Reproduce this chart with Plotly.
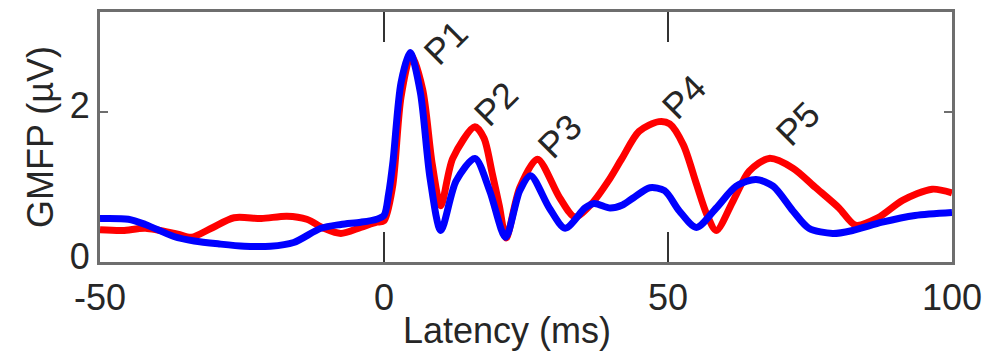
import plotly.graph_objects as go

# Latency axis (ms) and GMFP (µV) for the two conditions
t_red = [-50, -46, -42, -36.3, -33.9, -30.4, -26.4, -21.6, -17.1, -13.6, -10.6, -7.6,
         -4.1, -1.3, 0, 1.5, 3.0, 4.8, 6.8, 8.5, 10.0, 12.1, 16.0, 17.6, 19.0, 20.3,
         21.5, 23.9, 27.0, 30.9, 33.6, 36.6, 39.5, 41.9, 44.9, 48.4, 50.3, 52.7, 55.0,
         56.8, 58.5, 61.5, 64.3, 67.8, 72.0, 76.0, 80.1, 83.0, 87.0, 91.3, 96.5, 100]
gmfp_red = [0.43, 0.42, 0.45, 0.37, 0.33, 0.45, 0.59, 0.58, 0.61, 0.57, 0.45, 0.38,
            0.46, 0.53, 0.55, 1.00, 2.20, 2.76, 2.30, 1.30, 0.75, 1.38, 1.80, 1.65, 1.20, 0.75,
            0.32, 0.99, 1.37, 0.86, 0.60, 0.78, 1.08, 1.38, 1.74, 1.87, 1.84, 1.56, 1.04,
            0.64, 0.42, 0.82, 1.21, 1.38, 1.25, 0.99, 0.72, 0.49, 0.59, 0.82, 0.97, 0.92]

t_blue = [-50, -45, -42, -37, -33.4, -29, -24.6, -20, -15.9, -11.1, -7.6, -4.1, -1.3,
          0, 0.8, 1.6, 3.0, 4.6, 6.4, 8.1, 10.0, 12.7, 16.0, 18.6, 21.4, 23.9, 25.8,
          29.1, 31.9, 35.4, 37.0, 39.8, 42.0, 44.0, 46.8, 49.4, 52.0, 55.0, 58.5, 62.0,
          65.5, 68.5, 72.0, 74.8, 79.0, 82.5, 87.7, 93.5, 100]
gmfp_blue = [0.58, 0.57, 0.50, 0.34, 0.28, 0.24, 0.21, 0.21, 0.26, 0.45, 0.50, 0.53, 0.57,
             0.62, 0.90, 1.35, 2.39, 2.79, 2.26, 1.12, 0.42, 1.08, 1.38, 0.95, 0.33, 0.95, 1.15,
             0.72, 0.45, 0.72, 0.78, 0.72, 0.76, 0.86, 0.99, 0.95, 0.68, 0.46, 0.72, 1.01,
             1.10, 1.01, 0.68, 0.45, 0.38, 0.42, 0.53, 0.62, 0.66]

# Peak labels and their positions
peak_names = ["P1", "P2", "P3", "P4", "P5"]
peak_x = [10.9, 19.8, 30.9, 52.9, 72.9]
peak_y = [2.92, 2.11, 1.67, 2.20, 1.84]

x_ticks = [-50, 0, 50, 100]
y_ticks = [0, 2]

FONT = "Liberation Sans, Arial, sans-serif"
TXT = "#262626"
AX = "#6e6e6e"

fig = go.Figure()
fig.add_trace(go.Scatter(x=t_red, y=gmfp_red, mode="lines",
                         line=dict(color="#ff0000", width=7, shape="spline", smoothing=0.8),
                         hoverinfo="skip", showlegend=False))
fig.add_trace(go.Scatter(x=t_blue, y=gmfp_blue, mode="lines",
                         line=dict(color="#0000ff", width=7, shape="spline", smoothing=0.8),
                         hoverinfo="skip", showlegend=False))

for name, px, py in zip(peak_names, peak_x, peak_y):
    fig.add_annotation(x=px, y=py, xref="x", yref="y", text=name, showarrow=False,
                       textangle=-45, font=dict(family=FONT, size=36, color=TXT))

# x-axis label, placed as a paper-anchored annotation
fig.add_annotation(x=0.478, y=-0.275, xref="paper", yref="paper", text="Latency (ms)",
                   showarrow=False, xanchor="center", yanchor="middle",
                   font=dict(family=FONT, size=36, color=TXT))

fig.update_layout(
    width=991, height=359,
    margin=dict(l=100, r=34, t=9, b=97),
    paper_bgcolor="white", plot_bgcolor="white",
    font=dict(family=FONT, size=36, color=TXT),
)
fig.update_xaxes(
    range=[-50, 100], tickvals=x_ticks, ticktext=[str(v) for v in x_ticks],
    ticks="inside", ticklen=30, tickwidth=2, tickcolor="#333333",
    showline=True, linecolor=AX, linewidth=3, mirror="ticks",
    showgrid=False, zeroline=False, ticklabelstandoff=2,
    tickfont=dict(family=FONT, size=36, color=TXT),
)
fig.update_yaxes(
    range=[0, 3.33], tickvals=y_ticks, ticktext=[str(v) for v in y_ticks],
    ticks="inside", ticklen=8, tickwidth=2, tickcolor=AX,
    showline=True, linecolor=AX, linewidth=3, mirror="ticks",
    showgrid=False, zeroline=False, ticklabelshift=-6,
    tickfont=dict(family=FONT, size=36, color=TXT),
    title=dict(text="GMFP (µV)", font=dict(family=FONT, size=36, color=TXT), standoff=6),
)

fig.write_html("out.html")
